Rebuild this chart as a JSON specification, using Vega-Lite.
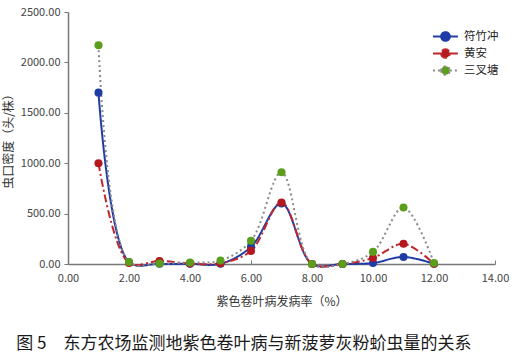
{
  "$schema": "https://vega.github.io/schema/vega-lite/v6.json",
  "width": 519,
  "height": 356,
  "autosize": {"type": "fit", "contains": "padding"},
  "padding": {"left": 2, "top": 6, "right": 10, "bottom": 4},
  "background": "white",
  "config": {
    "font": "Noto Sans CJK SC",
    "view": {"stroke": null}
  },
  "title": {
    "text": "图 5　东方农场监测地紫色卷叶病与新菠萝灰粉蚧虫量的关系",
    "orient": "bottom",
    "anchor": "start",
    "frame": "bounds",
    "dx": 14,
    "offset": 29,
    "fontSize": 17,
    "fontWeight": "normal",
    "color": "#1a1a1a"
  },
  "data": {
    "values": [
      {"x": 1, "s": "符竹冲", "y": 1700},
      {"x": 2, "s": "符竹冲", "y": 20},
      {"x": 3, "s": "符竹冲", "y": 2},
      {"x": 4, "s": "符竹冲", "y": 2},
      {"x": 5, "s": "符竹冲", "y": 2},
      {"x": 6, "s": "符竹冲", "y": 170},
      {"x": 7, "s": "符竹冲", "y": 600},
      {"x": 8, "s": "符竹冲", "y": 0},
      {"x": 9, "s": "符竹冲", "y": 0},
      {"x": 10, "s": "符竹冲", "y": 10},
      {"x": 11, "s": "符竹冲", "y": 70},
      {"x": 12, "s": "符竹冲", "y": 2},
      {"x": 1, "s": "黄安", "y": 1000},
      {"x": 2, "s": "黄安", "y": 10},
      {"x": 3, "s": "黄安", "y": 30},
      {"x": 4, "s": "黄安", "y": 5},
      {"x": 5, "s": "黄安", "y": 8},
      {"x": 6, "s": "黄安", "y": 130},
      {"x": 7, "s": "黄安", "y": 610},
      {"x": 8, "s": "黄安", "y": 0},
      {"x": 9, "s": "黄安", "y": 0},
      {"x": 10, "s": "黄安", "y": 60},
      {"x": 11, "s": "黄安", "y": 200},
      {"x": 12, "s": "黄安", "y": 2},
      {"x": 1, "s": "三叉塘", "y": 2170},
      {"x": 2, "s": "三叉塘", "y": 20},
      {"x": 3, "s": "三叉塘", "y": 5},
      {"x": 4, "s": "三叉塘", "y": 15},
      {"x": 5, "s": "三叉塘", "y": 35},
      {"x": 6, "s": "三叉塘", "y": 230},
      {"x": 7, "s": "三叉塘", "y": 910},
      {"x": 8, "s": "三叉塘", "y": 0},
      {"x": 9, "s": "三叉塘", "y": 0},
      {"x": 10, "s": "三叉塘", "y": 120},
      {"x": 11, "s": "三叉塘", "y": 560},
      {"x": 12, "s": "三叉塘", "y": 10}
    ]
  },
  "encoding": {
    "x": {
      "field": "x", "type": "quantitative",
      "scale": {"domain": [0, 14], "nice": false},
      "axis": {
        "values": [0, 2, 4, 6, 8, 10, 12, 14], "format": ".2f", "grid": false, "labelFlush": false,
        "title": "紫色卷叶病发病率（%）", "titleFontSize": 12, "titleFontWeight": "normal",
        "titleColor": "#333", "titlePadding": 13,
        "labelFontSize": 11, "labelColor": "#444", "labelPadding": 12,
        "domainColor": "#777", "domainWidth": 1.5, "tickColor": "#777", "tickSize": -4
      }
    },
    "y": {
      "field": "y", "type": "quantitative",
      "scale": {"domain": [0, 2500], "nice": false},
      "axis": {
        "values": [0, 500, 1000, 1500, 2000, 2500], "format": ".2f", "grid": false, "labelFlush": false,
        "title": "虫口密度（头/株）", "titleFontSize": 12, "titleFontWeight": "normal",
        "titleColor": "#333", "titlePadding": 5,
        "labelFontSize": 11, "labelColor": "#444", "labelPadding": 4,
        "domainColor": "#777", "domainWidth": 1.5, "tickColor": "#777", "tickSize": 4
      }
    }
  },
  "layer": [
    {
      "mark": {"type": "line", "interpolate": "catmull-rom", "strokeWidth": 2},
      "encoding": {
        "stroke": {
          "field": "s", "type": "nominal",
          "scale": {"domain": ["符竹冲", "黄安", "三叉塘"], "range": ["#1f3ca6", "#c0272d", "#8a8a8a"]},
          "legend": {
            "title": null, "orient": "none", "legendX": 370, "legendY": 17,
            "symbolType": "M-2,0H-0.7M0.7,0H2M-0.7,0A0.7,0.7,0,1,0,0.7,0A0.7,0.7,0,1,0,-0.7,0Z",
            "symbolSize": 156, "symbolStrokeWidth": 2, "symbolOpacity": 1,
            "gridAlign": "all",
            "labelFontSize": 11.5, "labelColor": "#222", "rowPadding": 0, "labelOffset": 11
          }
        },
        "strokeDash": {
          "field": "s", "type": "nominal",
          "scale": {"domain": ["符竹冲", "黄安", "三叉塘"], "range": [[1, 0], [8, 3, 2, 3], [2, 3]]}
        }
      }
    },
    {
      "mark": {"type": "point", "filled": true, "opacity": 1, "size": 65},
      "encoding": {
        "fill": {
          "field": "s", "type": "nominal",
          "scale": {"domain": ["符竹冲", "黄安", "三叉塘"], "range": ["#1f3ca6", "#b5171e", "#5a9e1c"]}
        }
      }
    }
  ]
}
